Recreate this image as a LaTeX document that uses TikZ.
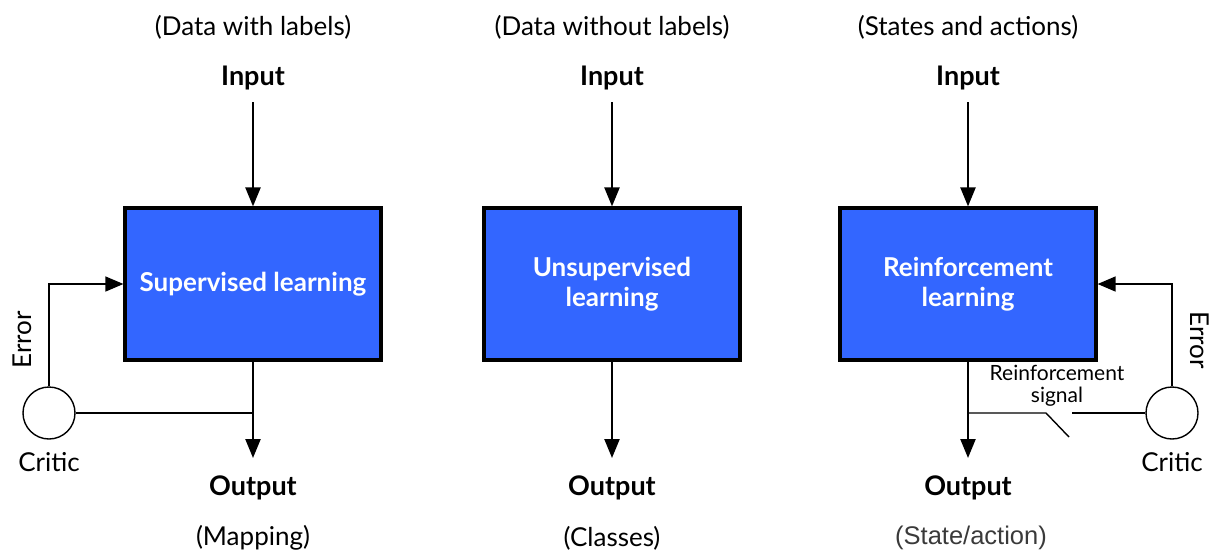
\documentclass[tikz,border=0pt]{standalone}
\usepackage{fontspec}
\setmainfont{Lato}
\newfontfamily\arialfont{Liberation Sans}
\usetikzlibrary{arrows.meta}
\definecolor{boxblue}{HTML}{3366FF}
\definecolor{darkgraytxt}{HTML}{3A3A3A}
\begin{document}
\begin{tikzpicture}[x=1pt,y=-1pt,
  learnbox/.style={draw=black,line width=3.2pt,fill=boxblue,minimum width=256pt,minimum height=152pt,
    text=white,font=\fontsize{26}{30}\selectfont\bfseries,align=center,inner sep=0pt},
  lbl/.style={font=\fontsize{26}{30}\selectfont,inner sep=0pt},
  blbl/.style={font=\fontsize{27}{30}\selectfont\bfseries,inner sep=0pt},
  mainarrow/.style={line width=2.3pt,-{Triangle[length=19pt,width=15pt]}},
  fb/.style={line width=1.4pt},
  fbarrow/.style={line width=1.4pt,-{Triangle[length=18pt,width=15pt]}},
  critic/.style={circle,draw=black,line width=1.4pt,minimum size=52pt,inner sep=0pt}]
\useasboundingbox (0,0) rectangle (1212,552);
% column 1
\node[lbl] (t1) at (253,27) {(Data with labels)};
\node[blbl] (i1) at (253,78) {Input};
\node[learnbox] (b1) at (253,284) {Supervised learning};
\node[blbl] (o1) at (253,488) {Output};
\node[lbl] (m1) at (253,538) {(Mapping)};
\draw[mainarrow] (i1.south)++(0,12) -- (b1.north);
\coordinate (b1o) at (253,458);
\draw[mainarrow] (b1.south) -- (b1o);
\node[critic] (c1) at (49,413) {};
\node[lbl] (cl1) at (49,462) {Critic};
\draw[fbarrow] (c1.north) |- (b1.west);
\draw[fb] (c1.east) -- (b1.south |- c1.east);
\node[lbl,rotate=90] (e1) at (22,340) {Error};
% column 2
\node[lbl] (t2) at (612,27) {(Data without labels)};
\node[blbl] (i2) at (612,78) {Input};
\node[learnbox] (b2) at (612,284) {Unsupervised\\learning};
\node[blbl] (o2) at (612,488) {Output};
\node[lbl] (m2) at (612,538) {(Classes)};
\draw[mainarrow] (i2.south)++(0,12) -- (b2.north);
\coordinate (b2o) at (612,458);
\draw[mainarrow] (b2.south) -- (b2o);
% column 3
\node[lbl] (t3) at (968,27) {(States and actions)};
\node[blbl] (i3) at (968,78) {Input};
\node[learnbox] (b3) at (968,284) {Reinforcement\\learning};
\node[blbl] (o3) at (968,488) {Output};
\node[font=\arialfont\fontsize{25.5}{30}\selectfont,text=darkgraytxt,inner sep=0pt] (m3) at (971,538) {(State/action)};
\draw[mainarrow] (i3.south)++(0,12) -- (b3.north);
\coordinate (b3o) at (968,458);
\draw[mainarrow] (b3.south) -- (b3o);
\node[critic] (c3) at (1172,413) {};
\node[lbl] (cl3) at (1172,462) {Critic};
\draw[fbarrow] (c3.north) |- (b3.east);
\node[lbl,rotate=-90] (e3) at (1200,340) {Error};
\coordinate (sw1) at (1046,413);
\coordinate (sw2) at (1069,437);
\coordinate (sw3) at (1072,413);
\draw[fb] (b3.south |- c3.west) -- (sw1) -- (sw2);
\draw[fb] (sw3) -- (c3.west);
\node[font=\fontsize{21}{22}\selectfont,align=center,inner sep=0pt] (rs) at (1057,386) {Reinforcement\\signal};
\end{tikzpicture}
\end{document}
